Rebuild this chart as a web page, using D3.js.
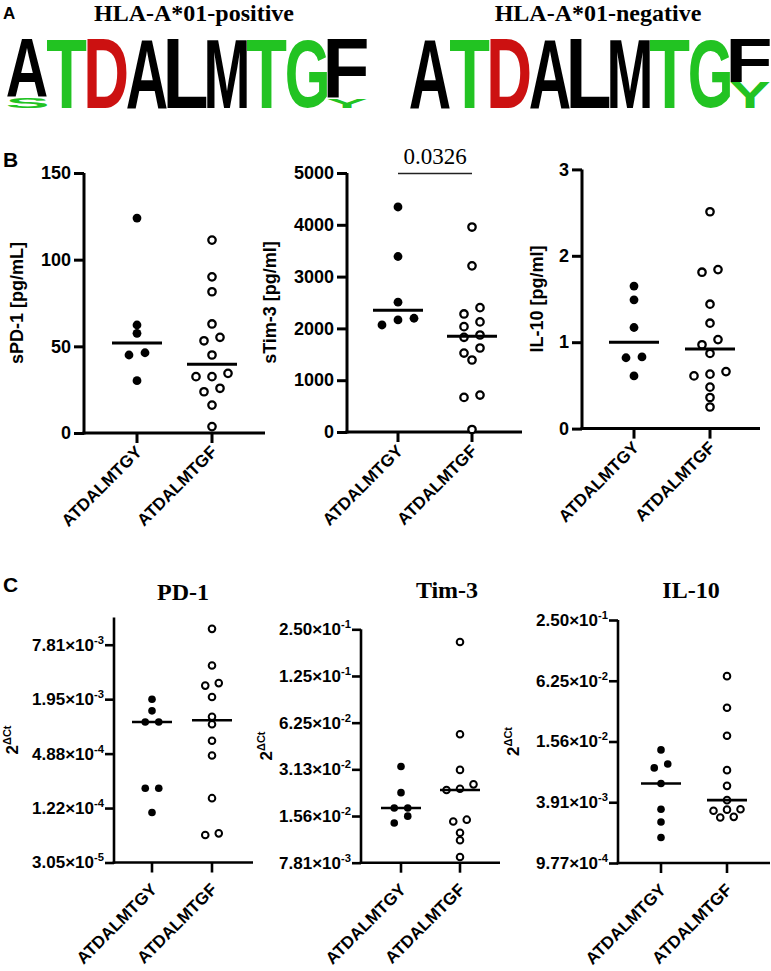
<!DOCTYPE html>
<html><head><meta charset="utf-8">
<script src="https://cdn.jsdelivr.net/npm/d3@7"></script>
<style>body{margin:0;background:#fff}</style>
</head><body>
<svg id="c" width="771" height="971" xmlns="http://www.w3.org/2000/svg"></svg>
<script>
// ---------------- DATA ----------------
const groups = ["ATDALMTGY", "ATDALMTGF"];

// Panel A : sequence logos (letter, fraction of column height, top to bottom)
const logoTitles = ["HLA-A*01-positive", "HLA-A*01-negative"];
const logoPositive = [[["A",0.84],["S",0.16]],[["T",1]],[["D",1]],[["A",1]],[["L",1]],[["M",1]],[["T",1]],[["G",1]],[["F",0.87],["Y",0.13]]];
const logoNegative = [[["A",1]],[["T",1]],[["D",1]],[["A",1]],[["L",1]],[["M",1]],[["T",1]],[["G",1]],[["F",0.63],["Y",0.37]]];
const residueColors = {A:"#000000",L:"#000000",M:"#000000",F:"#000000",T:"#22c322",G:"#22c322",S:"#22c322",Y:"#22c322",D:"#cc1111"};

// Panel B : soluble molecules
const bTitles = ["sPD-1 [pg/mL]", "sTim-3 [pg/ml]", "IL-10 [pg/ml]"];
const sPD1_Y  = [124, 62.3, 57.5, 46.3, 45.0, 30.2];
const sPD1_F  = [111.3, 90.1, 81.5, 62.9, 55.2, 53.2, 45.0, 34.4, 32.5, 32.5, 25.8, 23.8, 16.1, 3.7];
const sTim3_Y = [4344, 3388, 2506, 2196, 2163, 2066];
const sTim3_F = [3957, 3208, 2401, 2279, 2125, 2034, 1873, 1828, 1622, 1524, 1390, 713, 668, 48];
const IL10_Y  = [1.65, 1.49, 1.17, 0.83, 0.82, 0.61];
const IL10_F  = [2.51, 1.84, 1.81, 1.44, 1.22, 1.03, 0.97, 0.87, 0.66, 0.63, 0.61, 0.48, 0.36, 0.25];
const sPD1Ticks  = [0, 50, 100, 150];
const sTim3Ticks = [0, 1000, 2000, 3000, 4000, 5000];
const IL10Ticks  = [0, 1, 2, 3];
const pValueLabel = "0.0326";

// Panel C : mRNA expression (2^ΔCt)
const cTitles = ["PD-1", "Tim-3", "IL-10"];
const PD1c_Y  = [0.00195, 0.00145, 0.00109, 0.00109, 0.000202, 0.000202, 0.000109];
const PD1c_F  = [0.0117, 0.00461, 0.00294, 0.00276, 0.00206, 0.00125, 0.00103, 0.000677, 0.000465, 0.000157, 0.0000615, 0.0000641];
const Tim3c_Y = [0.0326, 0.0221, 0.0176, 0.0176, 0.0156, 0.0141];
const Tim3c_F = [0.207, 0.0526, 0.0310, 0.0250, 0.0234, 0.0230, 0.0148, 0.0144, 0.0122, 0.0109, 0.0085];
const IL10c_Y = [0.0129, 0.00935, 0.00855, 0.0060, 0.00333, 0.00249, 0.00175];
const IL10c_F = [0.0694, 0.0337, 0.0178, 0.00813, 0.00568, 0.0041, 0.00333, 0.0033, 0.00322, 0.0028, 0.00276];
const PD1cTicks  = [0.000030518, 0.00012207, 0.00048828, 0.0019531, 0.0078125];
const PD1cLabels = ["3.05×10^-5", "1.22×10^-4", "4.88×10^-4", "1.95×10^-3", "7.81×10^-3"];
const Tim3cTicks  = [0.0078125, 0.015625, 0.03125, 0.0625, 0.125, 0.25];
const Tim3cLabels = ["7.81×10^-3", "1.56×10^-2", "3.13×10^-2", "6.25×10^-2", "1.25×10^-1", "2.50×10^-1"];
const IL10cTicks  = [0.00097656, 0.0039063, 0.015625, 0.0625, 0.25];
const IL10cLabels = ["9.77×10^-4", "3.91×10^-3", "1.56×10^-2", "6.25×10^-2", "2.50×10^-1"];

// ---------------- DRAWING ----------------
const SANS = "'Liberation Sans', Arial, Helvetica, sans-serif";
const SERIF = "'Liberation Serif', 'Times New Roman', Times, serif";
const svg = d3.select("#c");
svg.append("rect").attr("width", 771).attr("height", 971).attr("fill", "#fff");

function label(x, y, t, size) {
  svg.append("text").attr("x", x).attr("y", y).text(t)
    .attr("font-family", SANS).attr("font-weight", "bold").attr("font-size", size);
}
label(3, 19, "A", 17);
label(3, 167, "B", 21);
label(3, 592, "C", 21);

// ---- Panel A logos ----
const ctx = document.createElement("canvas").getContext("2d");
ctx.font = "bold 100px 'Liberation Sans'";
function drawLogo(stacks, x0, x1, title, titleX) {
  const xs = d3.scaleBand().domain(d3.range(stacks.length)).range([x0, x1]);
  const ys = d3.scaleLinear().domain([0, 1]).range([108, 39]);
  const g = svg.append("g");
  stacks.forEach((stack, i) => {
    let cum = 1;
    stack.forEach(([ch, frac]) => {
      const top = ys(cum), bot = ys(cum - frac);
      cum -= frac;
      const m = ctx.measureText(ch);
      const iw = m.actualBoundingBoxLeft + m.actualBoundingBoxRight;
      const ih = m.actualBoundingBoxAscent + m.actualBoundingBoxDescent;
      const sx = xs.bandwidth() / iw, sy = (bot - top) / ih;
      g.append("text").text(ch)
        .attr("font-family", SANS).attr("font-weight", "bold").attr("font-size", 100)
        .attr("fill", residueColors[ch])
        .attr("transform", `translate(${xs(i)},${top}) scale(${sx},${sy}) translate(${m.actualBoundingBoxLeft},${m.actualBoundingBoxAscent})`);
    });
  });
  svg.append("text").attr("x", titleX).attr("y", 21).attr("text-anchor", "middle")
    .attr("font-family", SERIF).attr("font-weight", "bold").attr("font-size", 24).text(title);
}
drawLogo(logoPositive, 7, 367, logoTitles[0], 194);
drawLogo(logoNegative, 410, 770, logoTitles[1], 598);

// ---- swarm layout ----
function swarm(values, y, cx, D, thr) {
  const pts = values.map(v => ({v, y: y(v)})).sort((a, b) => a.y - b.y);
  const rows = []; let cur = null;
  pts.forEach(p => {
    if (cur && p.y - cur[0].y < thr) cur.push(p); else { cur = [p]; rows.push(cur); }
  });
  rows.forEach(r => { r.sort((a, b) => a.v - b.v); r.forEach((p, i) => p.x = cx + (i - (r.length - 1) / 2) * D); });
  return pts;
}

function dotPlot(cfg) {
  const g = svg.append("g");
  const y = cfg.y;
  const x = d3.scalePoint().domain(groups).range([cfg.xY, cfg.xF]);
  const y0 = y.range()[0];
  // y axis
  const ax = d3.axisLeft(y).tickValues(cfg.ticks).tickSize(cfg.tickLen).tickSizeOuter(0).tickPadding(cfg.pad)
    .tickFormat(cfg.sup ? "" : d3.format("d"));
  const ag = g.append("g").attr("transform", `translate(${cfg.axisX},0)`).call(ax);
  ag.attr("font-family", SANS).attr("font-size", cfg.fs).attr("font-weight", "bold");
  ag.selectAll("path,line").attr("stroke", "#000").attr("stroke-width", cfg.sw);
  ag.select(".domain").attr("d", `M0,${y0 + cfg.sw / 2}V${y.range()[1]}`);
  ag.selectAll(".tick text").attr("fill", "#000");
  if (cfg.sup) {
    ag.selectAll(".tick text").each(function (d, i) {
      const [m, e] = cfg.sup[i].split("^");
      const t = d3.select(this);
      t.append("tspan").text(m);
      t.append("tspan").attr("dy", -7).attr("font-size", cfg.fs * 0.66).text(e);
    });
  }
  // x axis
  g.append("line").attr("x1", cfg.axisX - cfg.sw / 2).attr("x2", cfg.xEnd).attr("y1", y0).attr("y2", y0)
    .attr("stroke", "#000").attr("stroke-width", cfg.sw);
  groups.forEach(c => {
    g.append("line").attr("x1", x(c)).attr("x2", x(c)).attr("y1", y0).attr("y2", y0 + cfg.xTick)
      .attr("stroke", "#000").attr("stroke-width", cfg.sw);
    g.append("text").text(c).attr("text-anchor", "end")
      .attr("transform", `translate(${x(c) + cfg.lblDx},${y0 + cfg.lblDy}) rotate(-45)`)
      .attr("font-family", SANS).attr("font-weight", "bold").attr("font-size", cfg.xfs);
  });
  // y title
  const yt = g.append("text").attr("text-anchor", "middle")
    .attr("transform", `translate(${cfg.titleX},${(y.range()[0] + y.range()[1]) / 2}) rotate(-90)`)
    .attr("font-family", SANS).attr("font-weight", "bold").attr("font-size", cfg.tfs);
  if (cfg.yTitle) yt.text(cfg.yTitle);
  else { yt.append("tspan").text("2"); yt.append("tspan").attr("dy", -7).attr("font-size", cfg.tfs * 0.65).text("ΔCt"); }
  // points
  [[cfg.dY, true, groups[0]], [cfg.dF, false, groups[1]]].forEach(([vals, filled, c]) => {
    const pts = swarm(vals, y, x(c), cfg.D, cfg.thr);
    g.selectAll(null).data(pts).enter().append("circle")
      .attr("cx", p => p.x).attr("cy", p => p.y)
      .attr("r", filled ? cfg.rF : cfg.rO)
      .attr("fill", filled ? "#000" : "#fff")
      .attr("stroke", "#000").attr("stroke-width", filled ? 0 : cfg.osw);
    const med = d3.median(vals);
    g.append("line").attr("x1", x(c) - cfg.mw).attr("x2", x(c) + cfg.mw)
      .attr("y1", y(med)).attr("y2", y(med)).attr("stroke", "#000").attr("stroke-width", cfg.msw);
  });
  return {x, y};
}

const Bbase = {tickLen: 10, pad: 3, fs: 18, sw: 3, xTick: 10, lblDx: 6, lblDy: 20, xfs: 17, tfs: 18,
  D: 16, thr: 8, rF: 4.4, rO: 3.7, osw: 2.3, mw: 25, msw: 3};
dotPlot(Object.assign({}, Bbase, {y: d3.scaleLinear().domain([0, 150]).range([433, 173]), ticks: sPD1Ticks,
  axisX: 84, xY: 137, xF: 212, xEnd: 265, titleX: 23, yTitle: bTitles[0], dY: sPD1_Y, dF: sPD1_F}));
const p2 = dotPlot(Object.assign({}, Bbase, {y: d3.scaleLinear().domain([0, 5000]).range([432, 173]), ticks: sTim3Ticks,
  axisX: 347, xY: 398, xF: 472, xEnd: 522, titleX: 276, yTitle: bTitles[1], dY: sTim3_Y, dF: sTim3_F}));
dotPlot(Object.assign({}, Bbase, {y: d3.scaleLinear().domain([0, 3]).range([428.6, 169.4]), ticks: IL10Ticks,
  axisX: 582, xY: 634, xF: 710, xEnd: 760, titleX: 543, yTitle: bTitles[2], dY: IL10_Y, dF: IL10_F}));

// significance bar
{
  const xa = p2.x(groups[0]), xb = p2.x(groups[1]);
  const yb = p2.y(5000) + 0.5;
  svg.append("line").attr("x1", xa).attr("x2", xb).attr("y1", yb).attr("y2", yb).attr("stroke", "#222").attr("stroke-width", 1.5);
  svg.append("text").attr("x", (xa + xb) / 2).attr("y", yb - 10).attr("text-anchor", "middle")
    .attr("font-family", SERIF).attr("font-size", 23).text(pValueLabel);
}

const Cbase = {tickLen: 9, pad: 1, fs: 17, sw: 2.6, xTick: 10, lblDx: 6, lblDy: 28, xfs: 17, tfs: 17,
  D: 13.5, thr: 7.5, rF: 3.8, rO: 3.3, osw: 2, mw: 20, msw: 2.6};
dotPlot(Object.assign({}, Cbase, {y: d3.scaleLog().base(2).domain([0.000030518, 0.015625]).range([862.5, 617.5]),
  ticks: PD1cTicks, sup: PD1cLabels, axisX: 114, xY: 152, xF: 212, xEnd: 253, titleX: 18, dY: PD1c_Y, dF: PD1c_F}));
dotPlot(Object.assign({}, Cbase, {y: d3.scaleLog().base(2).domain([0.0078125, 0.25]).range([862.7, 629.3]),
  ticks: Tim3cTicks, sup: Tim3cLabels, axisX: 361, xY: 401, xF: 460, xEnd: 500, titleX: 272, dY: Tim3c_Y, dF: Tim3c_F}));
dotPlot(Object.assign({}, Cbase, {y: d3.scaleLog().base(2).domain([0.00097656, 0.25]).range([863, 620]),
  ticks: IL10cTicks, sup: IL10cLabels, axisX: 618, xY: 661, xF: 727, xEnd: 770, titleX: 519, dY: IL10c_Y, dF: IL10c_F}));

// C titles
[[cTitles[0], 183, 600], [cTitles[1], 447, 598], [cTitles[2], 691, 598]].forEach(([t, x, y]) => {
  svg.append("text").attr("x", x).attr("y", y).attr("text-anchor", "middle")
    .attr("font-family", SERIF).attr("font-weight", "bold").attr("font-size", 24).text(t);
});
</script>
</body></html>
